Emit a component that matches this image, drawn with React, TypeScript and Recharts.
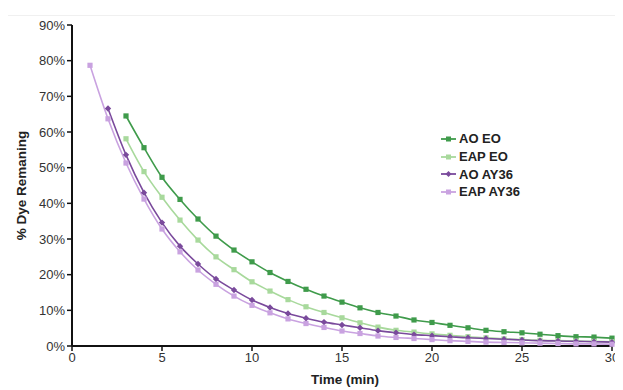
import React from "react";
import { LineChart, Line, XAxis, YAxis } from "recharts";

const times = [1, 2, 3, 4, 5, 6, 7, 8, 9, 10, 11, 12, 13, 14, 15, 16, 17, 18, 19, 20, 21, 22, 23, 24, 25, 26, 27, 28, 29, 30];

const aoEO = [null, null, 64.5, 55.6, 47.3, 41.1, 35.6, 30.8, 26.9, 23.6, 20.6, 18.1, 15.9, 14.0, 12.3, 10.7, 9.4, 8.4, 7.3, 6.6, 5.8, 5.1, 4.4, 4.0, 3.7, 3.3, 2.9, 2.6, 2.5, 2.2];
const eapEO = [null, null, 58.1, 48.9, 41.7, 35.3, 29.7, 25.0, 21.4, 18.0, 15.4, 13.0, 11.0, 9.4, 7.9, 6.5, 5.3, 4.4, 3.9, 3.4, 3.0, 2.6, 2.3, 2.0, 1.8, 1.6, 1.5, 1.4, 1.3, 1.2];
const aoAY36 = [null, 66.6, 53.6, 43.0, 34.6, 28.0, 23.0, 18.8, 15.7, 12.9, 10.8, 9.1, 7.8, 6.7, 5.9, 5.1, 4.3, 3.7, 3.2, 2.9, 2.6, 2.3, 2.1, 1.9, 1.7, 1.5, 1.4, 1.3, 1.2, 1.1];
const eapAY36 = [78.7, 63.7, 51.3, 41.2, 32.8, 26.4, 21.3, 17.3, 14.0, 11.4, 9.3, 7.6, 6.3, 5.2, 4.2, 3.5, 2.8, 2.4, 2.1, 1.8, 1.5, 1.3, 1.1, 1.0, 0.9, 0.8, 0.7, 0.6, 0.6, 0.5];

const xTicks = [0, 5, 10, 15, 20, 25, 30];
const yTicks = [0, 10, 20, 30, 40, 50, 60, 70, 80, 90];

const seriesNames = ["AO EO", "EAP EO", "AO AY36", "EAP AY36"];
const seriesKeys = ["aoEO", "eapEO", "aoAY36", "eapAY36"];
const colors = ["#3f9b4b", "#a8d99c", "#7a4a9c", "#c9a2e0"];
const shapes = ["square", "square", "diamond", "square"];

const data = times.map((t, i) => ({
  t,
  aoEO: aoEO[i],
  eapEO: eapEO[i],
  aoAY36: aoAY36[i],
  eapAY36: eapAY36[i],
}));

const FONT = "'Liberation Sans', Arial, sans-serif";

function makeDot(color: string, shape: string) {
  return (props: any) => {
    const { cx, cy, index } = props;
    if (cx == null || cy == null || props.value == null) return <g key={index} />;
    if (shape === "diamond") {
      const s = 3.2;
      return (
        <path
          key={index}
          d={`M${cx},${cy - s} L${cx + s},${cy} L${cx},${cy + s} L${cx - s},${cy} Z`}
          fill={color}
        />
      );
    }
    const s = 2.6;
    return <rect key={index} x={cx - s} y={cy - s} width={s * 2} height={s * 2} fill={color} />;
  };
}

const LegendBox = () => (
  <div
    style={{
      position: "absolute",
      left: 432,
      top: 122,
      fontFamily: FONT,
      fontWeight: 700,
      fontSize: 13,
      color: "#222",
    }}
  >
    {seriesNames.map((n, i) => (
      <div key={n} style={{ display: "flex", alignItems: "center", height: 17.7 }}>
        <svg width={18} height={10} style={{ marginRight: 1 }}>
          <line x1={1} y1={5} x2={16} y2={5} stroke={colors[i]} strokeWidth={1.8} />
          {shapes[i] === "diamond" ? (
            <path d="M8.5,2 L11.5,5 L8.5,8 L5.5,5 Z" fill={colors[i]} />
          ) : (
            <rect x={6} y={2.5} width={5} height={5} fill={colors[i]} />
          )}
        </svg>
        <span>{n}</span>
      </div>
    ))}
  </div>
);

const YLabel = (props: any) => {
  const vb = props.viewBox || {};
  const cy = vb.y + vb.height / 2;
  const x = 13;
  return (
    <text
      x={x}
      y={cy}
      transform={`rotate(-90, ${x}, ${cy})`}
      textAnchor="middle"
      dominantBaseline="central"
      style={{ fontFamily: FONT, fontWeight: 700, fontSize: 13.5, fill: "#222" }}
    >
      % Dye Remaning
    </text>
  );
};

const XLabel = (props: any) => {
  const vb = props.viewBox || {};
  const cx = vb.x + vb.width / 2 + 3;
  return (
    <text
      x={cx}
      y={376}
      textAnchor="middle"
      style={{ fontFamily: FONT, fontWeight: 700, fontSize: 13.5, fill: "#222" }}
    >
      Time (min)
    </text>
  );
};

export default function App() {
  return (
    <div style={{ position: "relative", width: 615, height: 382 }}>
      <div
        style={{
          position: "absolute",
          left: -1,
          top: 7,
          width: 620,
          height: 380,
          border: "1px solid #f0f0f0",
          boxSizing: "border-box",
        }}
      />
      <LineChart
        width={615}
        height={382}
        data={data}
        margin={{ top: 17, right: 11, left: 0, bottom: 0 }}
        style={{ position: "absolute", left: 0, top: 0, overflow: "visible" }}
      >
        <XAxis
          dataKey="t"
          type="number"
          domain={[0, 30]}
          ticks={xTicks}
          height={44}
          axisLine={{ stroke: "#111", strokeWidth: 2 }}
          tickLine={{ stroke: "#111", strokeWidth: 1.5 }}
          tickSize={5}
          interval={0}
          tick={{ fontFamily: FONT, fontSize: 13, fill: "#333" }}
          label={<XLabel />}
        />
        <YAxis
          type="number"
          domain={[0, 90]}
          ticks={yTicks}
          width={64}
          interval={0}
          tickFormatter={(v: number) => `${v}%`}
          axisLine={{ stroke: "#111", strokeWidth: 2 }}
          tickLine={{ stroke: "#111", strokeWidth: 1.5 }}
          tickSize={5}
          tick={{ fontFamily: FONT, fontSize: 13, fill: "#333" }}
          label={<YLabel />}
        />
        {seriesKeys.map((k, i) => (
          <Line
            key={k}
            dataKey={k}
            name={seriesNames[i]}
            type="monotone"
            stroke={colors[i]}
            strokeWidth={1.6}
            dot={makeDot(colors[i], shapes[i])}
            activeDot={false}
            connectNulls={false}
            isAnimationActive={false}
          />
        ))}
      </LineChart>
      <LegendBox />
    </div>
  );
}
